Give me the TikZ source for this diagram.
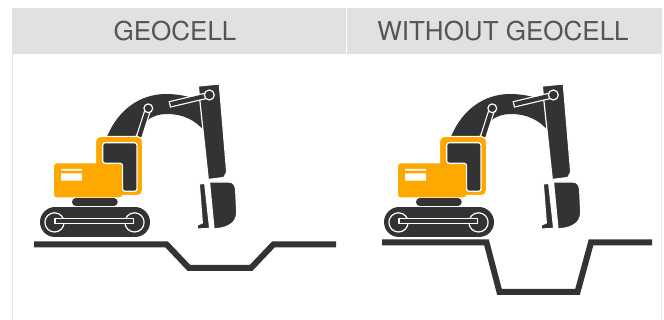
\documentclass[tikz,border=0pt]{standalone}
\usepackage{fontspec}
\setmainfont{TeX Gyre Heros}
\definecolor{excgray}{HTML}{333333}
\definecolor{excorange}{HTML}{FFA800}
\definecolor{headgray}{HTML}{E1E1E1}
\definecolor{textgray}{HTML}{555555}
\definecolor{framegray}{HTML}{E6E6E6}
\begin{document}
\begin{tikzpicture}[x=1pt, y=-1pt, line join=round,
    part/.style={fill=excgray, draw=white, line width=1.2pt},
    head/.style={font=\fontsize{26}{30}\selectfont, text=textgray, inner sep=0pt}]
  \useasboundingbox (0,0) rectangle (664,320);
  % header bands and frame
  \fill[headgray] (12,8.5) rectangle (345.5,54);
  \fill[headgray] (346.5,8.5) rectangle (662,54);
  \draw[framegray, line width=1pt] (12.7,54) -- (12.7,320) (661.5,54) -- (661.5,320);
  \node[head] (geocell) at (175,31) {GEOCELL};
  \node[head] (nogeocell) at (503,31) {WITHOUT GEOCELL};
  % ground, shallow and deep cut
  \draw[excgray, line width=6pt, line join=miter] (34,244.3) -- (166.5,244.3) -- (189,268) -- (251,268) -- (273.5,244.3) -- (336,244.3);
  \draw[excgray, line width=6pt, line join=miter] (382,242.5) -- (486.5,242.5) -- (499.5,292) -- (577.5,292) -- (591,242.5) -- (652,242.5);
  % the two excavators
  \foreach \dx in {0,344}{
  \begin{scope}[xshift=\dx]
    % boom
    \fill[excgray] (104,145) .. controls (115,110) and (140,94) .. (166,94) .. controls (182,94) and (195,98) .. (204,103) -- (206,133) .. controls (196,120) and (183,114) .. (167,114) .. controls (152,114) and (140,122) .. (133,142) -- cycle;
    % stick, bucket
    \draw[part] (198.3,86) -- (219.3,84) -- (226.7,172) -- (224,177.5) -- (208.3,179.5) -- cycle;
    \draw[part] (209.5,182) -- (229,182) .. controls (234,182) and (235.5,186) .. (235.7,191) -- (236.7,212) .. controls (237,224) and (226,228.5) .. (214,228.8) -- cycle;
    \draw[part] (199.3,184) -- (204.7,183.3) -- (209.7,228.5) -- (197.3,229) -- (197.3,225) -- (202.3,223) -- cycle;
    % cylinders
    \draw[white, line width=6.6pt] (169.3,104.5) -- (209.3,95);
    \draw[excgray, line width=4.2pt] (170.5,104.2) -- (209.3,95);
    \draw[white, line width=6.6pt] (148.3,108.3) -- (135,150);
    \draw[excgray, line width=4.2pt] (148.3,108.3) -- (135,150);
    \draw[part] (209.3,95) circle (5pt) (148.3,108.3) circle (4.4pt);
    % tracks
    \draw[excgray, line width=30pt, line cap=round] (55,222.3) -- (135,222.3);
    \draw[excgray, line width=7.4pt, line cap=round] (75.7,202) -- (114,202);
    \draw[part] (54.5,222.4) circle (9.6pt) (134.5,222.4) circle (9.6pt);
    \draw[part] (54.9,218.3) rectangle (133.7,223.7);
    % cab and hood
    \draw[fill=excorange, draw=white, line width=1pt, rounded corners=5pt] (95.5,136.5) rectangle (142.5,195.5);
    \fill[excorange, rounded corners=3pt] (54,163.3) rectangle (122,197.5);
    \draw[part, rounded corners=2.5pt] (102.7,142.7) -- (137,142.7) -- (137,191.3) -- (122.6,191.3) -- (122.6,163.3) -- (102.7,163.3) -- cycle;
    \fill[white] (61,169) rectangle (82,170.7) (61,173.3) rectangle (82,180.7);
  \end{scope}}
\end{tikzpicture}
\end{document}
